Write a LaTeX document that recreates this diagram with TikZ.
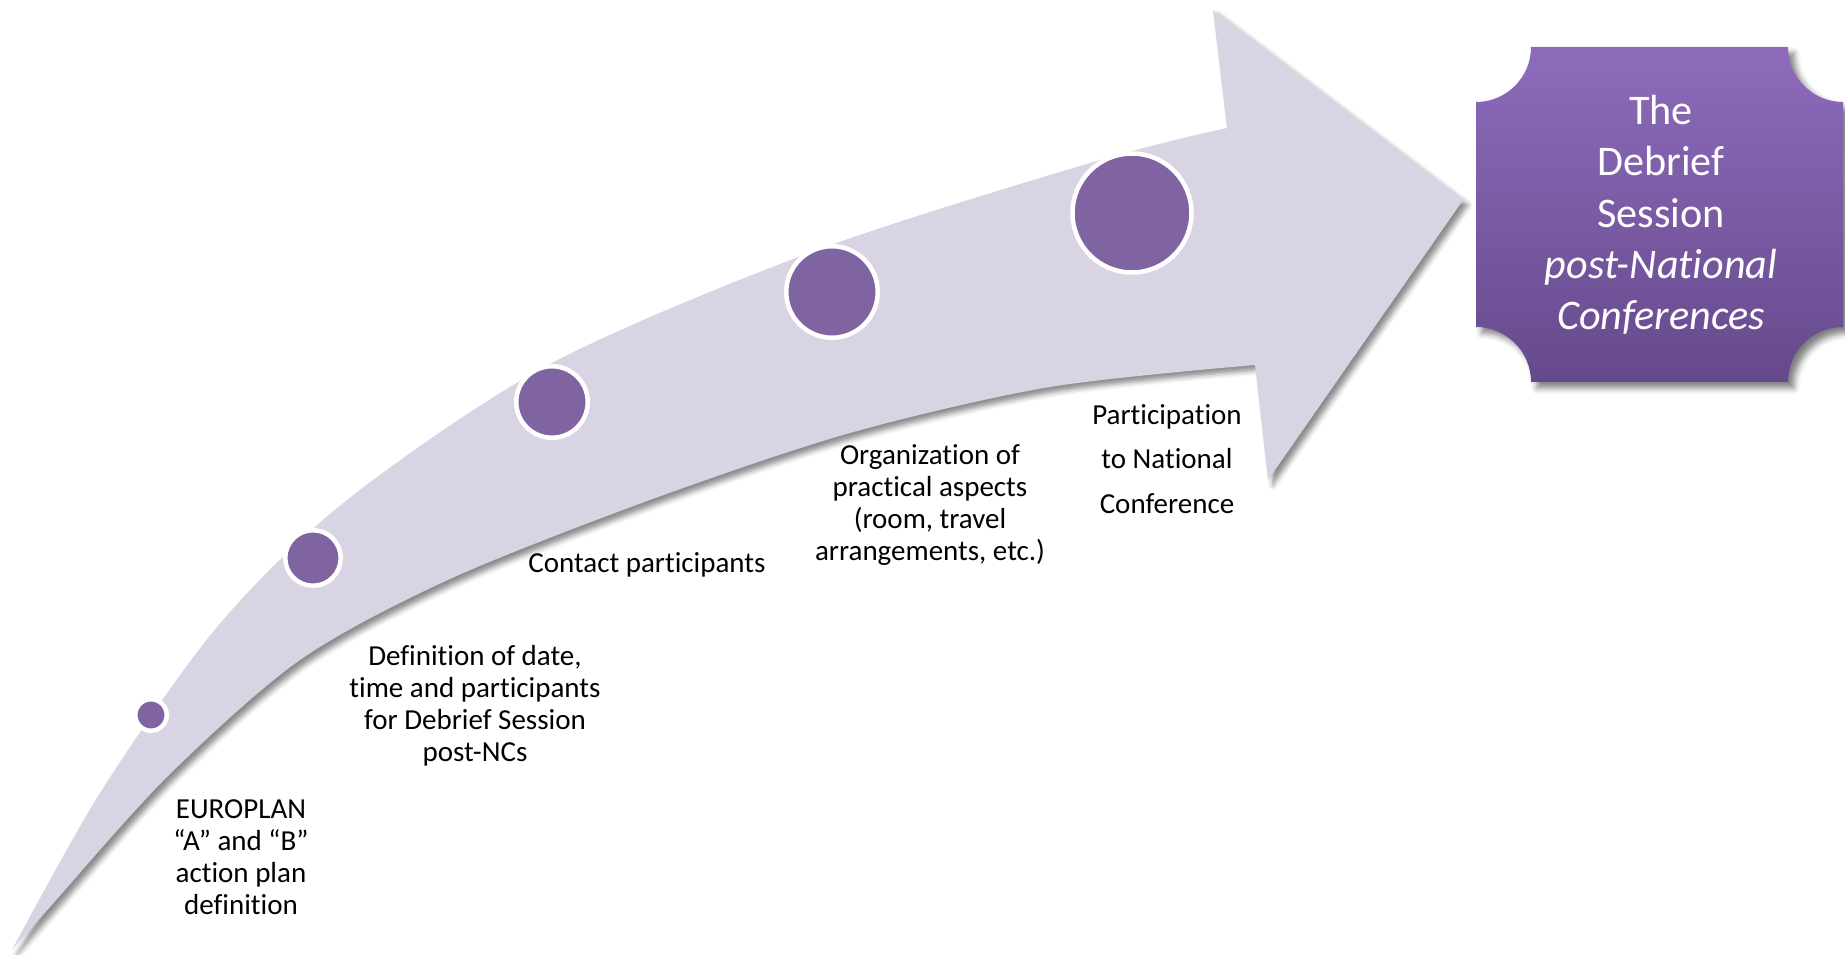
\documentclass[tikz,border=0pt]{standalone}
\usepackage{fontspec}
\setmainfont{Carlito}[Ligatures=TeX,RawFeature={-liga;-clig;-dlig;-calt}]
\usetikzlibrary{shadows.blur}
\definecolor{bandgray}{RGB}{216,212,227}
\definecolor{dotpurple}{RGB}{128,100,162}
\definecolor{boxtop}{RGB}{141,108,188}
\definecolor{boxbot}{RGB}{102,73,140}
\begin{document}
\begin{tikzpicture}[x=0.1mm,y=-0.1mm,
dot/.style={circle,fill=dotpurple,draw=white,line width=0.45mm,inner sep=0},
lbl/.style={align=center,inner sep=0,font=\fontsize{8.25}{9.1}\selectfont}]
\useasboundingbox(0,0)rectangle(1845,955);
\fill[bandgray,blur shadow={shadow xshift=0.5mm,shadow yshift=-0.5mm,shadow blur radius=0.5mm,shadow opacity=45}]
plot[smooth]coordinates{(12,950)(100,793)(217,627)(347,500)(550,364)(817,250)(1100,160)(1227,128)}
--(1213,10)--(1463,200)--(1268,480)--
plot[smooth]coordinates{(1255,365)(1050,387)(850,433)(650,500)(450,579)(300,660)(167,777)(50,907)(12,950)}--cycle;
\node[dot,minimum size=3.15mm](S1)at(151,715){};
\node[dot,minimum size=5.55mm](S2)at(313,558){};
\node[dot,minimum size=7.15mm](S3)at(552,402){};
\node[dot,minimum size=9.15mm](S4)at(832,292){};
\node[dot,minimum size=11.9mm](S5)at(1132,213){};
\node[lbl](T1)at(241,857){EUROPLAN\\“A” and “B”\\action plan\\definition};
\node[lbl](T2)at(475,706){Definition of date,\\time and participants\\for Debrief Session\\post-NCs};
\node[lbl](T3)at(647,565){Contact participants};
\node[lbl](T4)at(930,505){Organization of\\practical aspects\\(room, travel\\arrangements, etc.)};
\node[lbl,font=\fontsize{8.25}{12.7}\selectfont](T5)at(1167,459){Participation\\to National\\Conference};
\path[top color=boxtop,bottom color=boxbot,blur shadow={shadow xshift=0.6mm,shadow yshift=-0.6mm,shadow blur radius=0.6mm,shadow opacity=50}]
(1531,47)--(1788,47)arc[start angle=180,end angle=90,radius=55]--(1843,327)arc[start angle=270,end angle=180,radius=55]
--(1531,382)arc[start angle=0,end angle=-90,radius=55]--(1476,102)arc[start angle=90,end angle=0,radius=55]--cycle;
\node[align=center,inner sep=0,text=white,font=\fontsize{12}{14.6}\selectfont](F)at(1661,215){The\\Debrief\\Session\\\textit{post-National}\\\textit{Conferences}};
\end{tikzpicture}
\end{document}
